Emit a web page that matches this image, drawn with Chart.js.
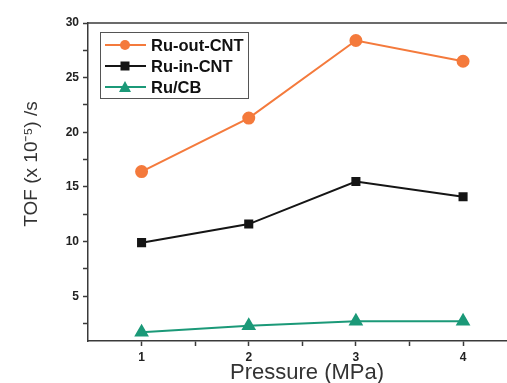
<!DOCTYPE html>
<html>
<head>
<meta charset="utf-8">
<script src="https://cdn.jsdelivr.net/npm/chart.js@4.4.1/dist/chart.umd.min.js"></script>
<style>
  html, body { margin: 0; padding: 0; background: #fff; }
  #wrap { width: 507px; height: 383px; }
</style>
</head>
<body>
<div id="wrap"><canvas id="tofChart" width="507" height="383"></canvas></div>
<script>
// valores
const pressao = [1, 2, 3, 4];
const ruOutCnt = [16.4, 21.3, 28.4, 26.5];
const ruInCnt = [9.9, 11.6, 15.5, 14.1];
const ruCb = [1.7, 2.3, 2.7, 2.7];
const nomes = ["Ru-out-CNT", "Ru-in-CNT", "Ru/CB"];
const ticksY = [5, 10, 15, 20, 25, 30];
const tituloY = "TOF (x 10\u207B\u2075) /s";
const tituloX = "Pressure (MPa)";

const corLaranja = "#f47a3c";
const corPreta = "#151515";
const corVerde = "#1b9978";
const eixo = "#3a3a3a";
const fonte = "'Liberation Sans', Arial, sans-serif";

function pontos(valores) {
  return pressao.map((p, i) => ({ x: p, y: valores[i] }));
}

function textoEixo(ctx, texto, x, y, angulo, tamanho) {
  ctx.save();
  ctx.translate(x, y);
  ctx.rotate(angulo);
  ctx.fillStyle = "#333";
  ctx.font = tamanho + "px " + fonte;
  ctx.textAlign = "center";
  ctx.textBaseline = "middle";
  ctx.fillText(texto, 0, 0);
  ctx.restore();
}

// moldura de cima, titulos dos eixos e legenda desenhada dentro do grafico
const molduraLegenda = {
  id: "molduraLegenda",
  afterDraw(chart) {
    const ctx = chart.ctx;
    const a = chart.chartArea;
    ctx.save();
    ctx.strokeStyle = eixo;
    ctx.lineWidth = 1.5;
    ctx.beginPath();
    ctx.moveTo(a.left, a.top);
    ctx.lineTo(a.right, a.top);
    ctx.stroke();

    // titulos um pouco fora do centro, como no original
    textoEixo(ctx, tituloY, 32, 164, -Math.PI / 2, 19);
    textoEixo(ctx, tituloX, 307, 373, 0, 22);

    // caixa da legenda
    ctx.strokeStyle = "#555";
    ctx.lineWidth = 1;
    ctx.strokeRect(100.5, 32.5, 148, 66);

    const linhasY = [45, 66, 87];
    chart.data.datasets.forEach((ds, i) => {
      const y = linhasY[i];
      ctx.strokeStyle = ds.borderColor;
      ctx.lineWidth = 2;
      ctx.beginPath();
      ctx.moveTo(105, y);
      ctx.lineTo(146, y);
      ctx.stroke();
      ctx.fillStyle = ds.pointBackgroundColor;
      ctx.beginPath();
      if (ds.pointStyle === "circle") {
        ctx.arc(125, y, 5, 0, Math.PI * 2);
      } else if (ds.pointStyle === "rect") {
        ctx.rect(120.5, y - 4.5, 9, 9);
      } else {
        ctx.moveTo(125, y - 6);
        ctx.lineTo(131, y + 5);
        ctx.lineTo(119, y + 5);
        ctx.closePath();
      }
      ctx.fill();
      ctx.fillStyle = "#111";
      ctx.font = "bold 16.5px " + fonte;
      ctx.textBaseline = "middle";
      ctx.textAlign = "left";
      ctx.fillText(ds.label, 151, y + 1);
    });
    ctx.restore();
  }
};

new Chart(document.getElementById("tofChart").getContext("2d"), {
  type: "line",
  data: {
    datasets: [
      {
        label: nomes[0],
        data: pontos(ruOutCnt),
        borderColor: corLaranja,
        backgroundColor: corLaranja,
        pointBackgroundColor: corLaranja,
        pointBorderColor: corLaranja,
        pointStyle: "circle",
        pointRadius: 5.5,
        borderWidth: 2
      },
      {
        label: nomes[1],
        data: pontos(ruInCnt),
        borderColor: corPreta,
        backgroundColor: corPreta,
        pointBackgroundColor: corPreta,
        pointBorderColor: corPreta,
        pointStyle: "rect",
        pointRadius: 5,
        borderWidth: 2
      },
      {
        label: nomes[2],
        data: pontos(ruCb),
        borderColor: corVerde,
        backgroundColor: corVerde,
        pointBackgroundColor: corVerde,
        pointBorderColor: corVerde,
        pointStyle: "triangle",
        pointRadius: 6.5,
        borderWidth: 2
      }
    ]
  },
  options: {
    responsive: false,
    animation: false,
    layout: { autoPadding: false, padding: { top: 23, right: 0, left: 0, bottom: 0 } },
    plugins: { legend: { display: false }, tooltip: { enabled: false } },
    scales: {
      x: {
        type: "linear",
        min: 0.5,
        max: 4.41,
        afterFit: (s) => { s.height = 42; s.paddingLeft = 0; s.paddingRight = 0; },
        afterBuildTicks: (s) => {
          s.ticks = [1, 1.5, 2, 2.5, 3, 3.5, 4].map(v => ({ value: v }));
        },
        border: { display: true, color: eixo, width: 1.5 },
        grid: { display: true, drawOnChartArea: false, drawTicks: true, tickLength: 5, color: eixo, tickWidth: 1.5 },
        ticks: {
          color: "#222",
          padding: 4,
          maxRotation: 0,
          font: { family: fonte, size: 12, weight: "bold" },
          callback: (v) => (Number.isInteger(v) ? String(v) : "")
        },
        title: { display: false }
      },
      y: {
        type: "linear",
        min: 0.9,
        max: 30,
        afterFit: (s) => { s.width = 88; s.paddingTop = 0; s.paddingBottom = 0; },
        afterBuildTicks: (s) => {
          const lista = [];
          for (let v = 2.5; v <= 30; v += 2.5) lista.push({ value: v });
          s.ticks = lista;
        },
        border: { display: true, color: eixo, width: 1.5 },
        grid: { display: true, drawOnChartArea: false, drawTicks: true, tickLength: 5, color: eixo, tickWidth: 1.5 },
        ticks: {
          color: "#222",
          padding: 4,
          font: { family: fonte, size: 12, weight: "bold" },
          callback: (v) => (ticksY.includes(v) ? String(v) : "")
        },
        title: { display: false }
      }
    }
  },
  plugins: [molduraLegenda]
});
</script>
</body>
</html>
